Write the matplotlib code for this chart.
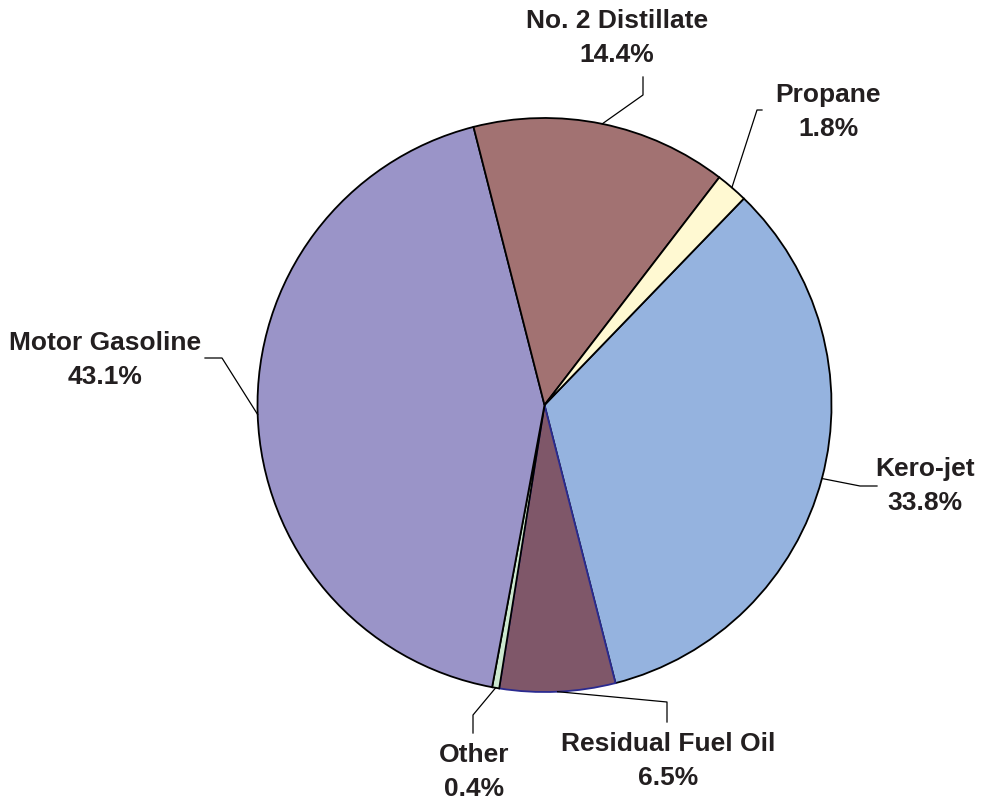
import matplotlib

matplotlib.use("Agg")

import matplotlib.pyplot as plt
import numpy as np

# Data (clockwise from the Propane/Kero-jet boundary)
labels = ["Kero-jet", "Residual Fuel Oil", "Other", "Motor Gasoline", "No. 2 Distillate", "Propane"]
shares = [33.8, 6.5, 0.4, 43.1, 14.4, 1.8]
colors = ["#95B3DF", "#7F5769", "#CCE8CF", "#9A94C8", "#A27272", "#FFF9D2"]
edge_colors = ["black", "#2A2A90", "black", "black", "black", "black"]

W, H = 989, 801
CX, CY, R = 544.5, 405.0, 287.0


def px(x, y):
    """Pixel coords (origin top-left) -> data coords (pie radius = 1)."""
    return ((x - CX) / R, (CY - y) / R)


# elbow point, line end, label centre (pixels)
leaders = {
    "Kero-jet": ((860, 486), (877, 486), (925, 486)),
    "Residual Fuel Oil": ((667, 702), (667, 722), (668, 761)),
    "Other": ((473, 715), (473, 733), (474, 772)),
    "Motor Gasoline": ((222, 358), (205, 358), (105, 360)),
    "No. 2 Distillate": ((643, 95), (643, 77), (617, 38)),
    "Propane": ((757, 110), (762, 110), (828, 112)),
}

fig = plt.figure(figsize=(W / 100, H / 100), dpi=100)
ax = fig.add_axes([0, 0, 1, 1])
ax.axis("off")

wedges, _ = ax.pie(
    shares,
    colors=colors,
    startangle=46,
    counterclock=False,
    radius=1.0,
    wedgeprops={"linewidth": 1.3},
    frame=False,
)
ax.set_aspect("auto")
ax.set_xlim(-CX / R, (W - CX) / R)
ax.set_ylim(-(H - CY) / R, CY / R)

for w, ec in zip(wedges, edge_colors):
    w.set_edgecolor(ec)

for w, name, val in zip(wedges, labels, shares):
    mid = np.deg2rad((w.theta1 + w.theta2) / 2)
    start = (np.cos(mid), np.sin(mid))
    elbow, end, lab = leaders[name]
    ex, ey = px(*elbow)
    fx, fy = px(*end)
    ax.plot([start[0], ex, fx], [start[1], ey, fy], color="black", lw=0.9)
    lx, ly = px(*lab)
    ax.text(lx, ly, f"{name}\n{val:.1f}%", ha="center", va="center",
            fontsize=19, fontweight="bold", family="Liberation Sans",
            color="#231F20", linespacing=1.5)

fig.savefig("out.png", dpi=100)
